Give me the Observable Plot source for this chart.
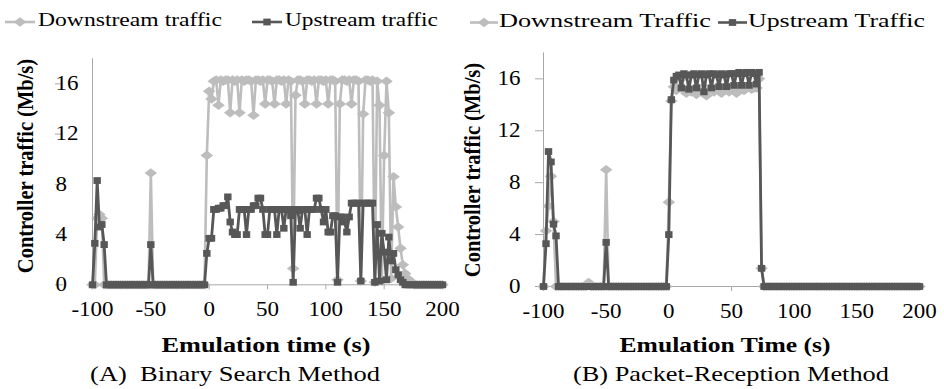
<!DOCTYPE html>
<html><head><meta charset="utf-8">
<script src="https://cdn.jsdelivr.net/npm/d3@7"></script>
<script src="https://cdn.jsdelivr.net/npm/@observablehq/plot@0.6"></script>
<style>
body{margin:0;background:#fff;}
#fig{position:relative;width:944px;height:389px;overflow:hidden;background:#fff;}
.panel{position:absolute;top:0;}
</style></head><body><div id="fig"></div>
<script>
// ---------------- data ----------------
const time = [
-100,-98,-96,-94,-92,-90,-88,-86,-84,-82,
-80,-78,-76,-74,-72,-70,-68,-66,-64,-62,
-60,-58,-56,-54,-52,-50,-48,-46,-44,-42,
-40,-38,-36,-34,-32,-30,-28,-26,-24,-22,
-20,-18,-16,-14,-12,-10,-8,-6,-4,-2,
0,2,4,6,8,10,12,14,16,18,
20,22,24,26,28,30,32,34,36,38,
40,42,44,46,48,50,52,54,56,58,
60,62,64,66,68,70,72,74,76,78,
80,82,84,86,88,90,92,94,96,98,
100,102,104,106,108,110,112,114,116,118,
120,122,124,126,128,130,132,134,136,138,
140,142,144,146,148,150,152,154,156,158,
160,162,164,166,168,170,172,174,176,178,
180,182,184,186,188,190,192,194,196,198,
200];

// (A) Binary Search Method
const leftDown = [
0,0,5.3,5.6,5.3,0,0,0,0,0,
0,0,0,0,0,0,0,0,0,0,
0,0,0,0,0,8.9,0,0,0,0,
0,0,0,0,0,0,0,0,0,0,
0,0,0,0,0,0,0,0,0,10.3,
15.4,14.8,16.2,16.3,14.3,16.3,16.2,16.3,16.3,13.7,
16.3,16.2,16.3,13.7,16.3,16.2,16.3,16.3,16.2,13.5,
16.3,16.3,16.2,16.3,14.4,16.3,16.3,16.2,14.4,16.3,
16.3,16.2,16.3,14.4,16.3,16.2,1.3,15.1,16.3,16.3,
16.2,14.4,16.3,16.3,16.2,16.3,14.4,16.3,16.3,16.2,
16.3,14.4,16.3,16.3,16.2,0.4,14.4,16.3,16.3,16.2,
16.3,14.4,16.3,16.3,16.2,0.3,13.6,16.3,16.3,16.2,
16.3,0.2,16.2,14.3,0.3,10.3,16.2,13.7,0.5,8.6,
6.2,4.6,2.9,1.6,0.9,0.5,0.3,0.2,0,0,
0,0,0,0,0,0,0,0,0,0,
0];
const leftUp = [
0,3.3,8.3,4.6,4.8,3.2,0,0,0,0,
0,0,0,0,0,0,0,0,0,0,
0,0,0,0,0,3.2,0,0,0,0,
0,0,0,0,0,0,0,0,0,0,
0,0,0,0,0,0,0,0,0,2.5,
3.7,3.7,6.0,6.0,6.1,6.1,6.3,6.3,7.0,5.0,
4.2,4.0,4.0,6.0,6.0,6.0,4.0,6.0,6.0,6.3,
6.3,6.9,6.9,6.0,4.0,4.0,6.0,6.0,6.0,4.0,
6.0,6.0,4.5,6.0,6.0,5.5,0.2,6.0,5.9,4.5,
6.0,6.0,4.0,6.0,6.0,6.0,6.9,6.9,6.0,5.0,
6.0,4.2,4.2,5.5,5.5,0.2,5.4,5.4,5.0,4.2,
5.4,6.5,6.5,6.5,6.5,0.3,6.5,6.5,6.5,6.5,
6.5,0.2,4.8,0.3,4.1,2.6,0.4,3.8,1.9,2.5,
1.2,0.8,0.4,0.2,0,0,0,0,0,0,
0,0,0,0,0,0,0,0,0,0,
0];

// (B) Packet-Reception Method
const rightDown = [
0,4.3,6.2,8.5,5.0,0,0,0,0,0,
0,0,0,0,0,0,0,0,0.3,0,
0,0,0,0,0,9.0,0,0,0,0,
0,0,0,0,0,0,0,0,0,0,
0,0,0,0,0,0,0,0,0,0,
6.5,14.3,15.4,15.1,15.3,16.0,15.2,14.9,15.3,15.0,
15.2,14.8,15.3,15.0,15.4,14.7,15.2,15.3,15.0,15.2,
15.3,14.9,15.2,15.4,15.0,15.3,15.2,14.9,15.3,15.2,
15.1,15.3,15.4,15.2,15.3,15.3,16.0,1.4,0,0,
0,0,0,0,0,0,0,0,0,0,
0,0,0,0,0,0,0,0,0,0,
0,0,0,0,0,0,0,0,0,0,
0,0,0,0,0,0,0,0,0,0,
0,0,0,0,0,0,0,0,0,0,
0,0,0,0,0,0,0,0,0,0,
0];
const rightUp = [
0,3.3,10.4,9.6,4.8,3.9,0,0,0,0,
0,0,0,0,0,0,0,0,0,0,
0,0,0,0,0,3.4,0,0,0,0,
0,0,0,0,0,0,0,0,0,0,
0,0,0,0,0,0,0,0,0,0,
4.0,14.4,15.9,16.2,16.3,15.3,16.4,16.3,15.2,16.3,
16.4,15.3,16.3,16.4,15.0,16.3,16.4,15.3,16.4,16.3,
15.4,16.4,16.3,15.4,16.4,16.4,15.5,16.4,16.5,15.5,
16.4,16.5,15.5,16.5,16.4,15.6,16.5,1.4,0,0,
0,0,0,0,0,0,0,0,0,0,
0,0,0,0,0,0,0,0,0,0,
0,0,0,0,0,0,0,0,0,0,
0,0,0,0,0,0,0,0,0,0,
0,0,0,0,0,0,0,0,0,0,
0,0,0,0,0,0,0,0,0,0,
0];

const xTicks = [-100, -50, 0, 50, 100, 150, 200];
const xTickLabels = ["-100", "-50", "0", "50", "100", "150", "200"];
const yTicks = [0, 4, 8, 12, 16];
const yTickLabels = ["0", "4", "8", "12", "16"];
const legendLeft = ["Downstream traffic", "Upstream traffic"];
const legendRight = ["Downstream Traffic", "Upstream Traffic"];
const yTitle = "Controller traffic (Mb/s)";
const xTitleLeft = "Emulation time (s)";
const xTitleRight = "Emulation Time (s)";
const captionLeft = "(A)  Binary Search Method";
const captionRight = "(B) Packet-Reception Method";

// ---------------- styles ----------------
const FONT = '"Liberation Serif", "Times New Roman", serif';
const LIGHT = "#bdbdbd";
const DARK = "#575757";
const AXIS = "#a8a8a8";
const diamondSym = {draw(ctx) { ctx.moveTo(0, -4.8); ctx.lineTo(6.3, 0); ctx.lineTo(0, 4.8); ctx.lineTo(-6.3, 0); ctx.closePath(); }};
const squareSym = {draw(ctx) { ctx.rect(-3.7, -3.4, 7.4, 6.8); }};

function rows(values) { return time.map((t, i) => ({t, v: values[i]})); }

function panel({down, up, left, width, mL, mR, mT, mB, yAnchorStart}) {
  const yAxisOpts = yAnchorStart
    ? {ticks: yTicks, tickSize: 8, tickPadding: 0, textAnchor: "start", dx: -29, stroke: AXIS, label: null,
       tickFormat: d => yTickLabels[yTicks.indexOf(d)]}
    : {ticks: yTicks, tickSize: 8, tickPadding: 15, stroke: AXIS, label: null,
       tickFormat: d => yTickLabels[yTicks.indexOf(d)]};
  const svg = Plot.plot({
    width, height: 389,
    marginLeft: mL, marginRight: mR, marginTop: mT, marginBottom: mB,
    x: {domain: [-100, 200]},
    y: {domain: [0, 18]},
    style: {fontFamily: FONT, fontSize: "20px", color: "#000", background: "transparent", overflow: "visible"},
    marks: [
      Plot.ruleX([-100], {stroke: AXIS, strokeWidth: 1}),
      Plot.ruleY([0], {stroke: AXIS, strokeWidth: 1}),
      Plot.axisX({ticks: xTicks, tickSize: 5, tickPadding: 12, stroke: AXIS, label: null,
        tickFormat: d => xTickLabels[xTicks.indexOf(d)]}),
      Plot.axisY(yAxisOpts),
      Plot.line(rows(down), {x: "t", y: "v", stroke: LIGHT, strokeWidth: 2.6}),
      Plot.dot(rows(down), {x: "t", y: "v", symbol: diamondSym, fill: LIGHT, stroke: "none"}),
      Plot.line(rows(up), {x: "t", y: "v", stroke: DARK, strokeWidth: 2.8}),
      Plot.dot(rows(up), {x: "t", y: "v", symbol: squareSym, fill: DARK, stroke: "none"})
    ]
  });
  svg.classList.add("panel");
  svg.style.left = left + "px";
  // horizontally widen tick labels like the reference
  svg.querySelectorAll('g[aria-label$="tick label"] text').forEach(t => {
    const tr = t.getAttribute("transform");
    if (tr) t.setAttribute("transform", tr + " scale(1.15,1)");
    else {
      const x = +t.getAttribute("x") || 0, y = +t.getAttribute("y") || 0;
      t.removeAttribute("x"); t.removeAttribute("y");
      t.setAttribute("transform", `translate(${x},${y}) scale(1.15,1)`);
    }
  });
  return svg;
}

const fig = document.getElementById("fig");
fig.appendChild(panel({down: leftDown, up: leftUp, left: 0, width: 470, mL: 92, mR: 28, mT: 58.2, mB: 104.7, yAnchorStart: true}));
fig.appendChild(panel({down: rightDown, up: rightUp, left: 470, width: 474, mL: 73, mR: 25, mT: 52.4, mB: 103, yAnchorStart: false}));

// ---------------- overlay: legends, titles, captions ----------------
const ov = d3.select(fig).append("svg")
  .attr("width", 944).attr("height", 389)
  .style("position", "absolute").style("left", "0px").style("top", "0px")
  .style("overflow", "visible");

function addText({text, x, y, size, weight = "normal", anchor = "start", width, stretch = 1, rotate = false}) {
  const t = ov.append("text")
    .attr("font-family", FONT).attr("font-size", size).attr("font-weight", weight)
    .attr("text-anchor", anchor).attr("fill", "#000")
    .style("white-space", "pre").text(text);
  let s = stretch;
  if (width) s = width / t.node().getComputedTextLength();
  t.attr("transform", rotate
    ? `translate(${x},${y}) rotate(-90) scale(1,${s})`
    : `translate(${x},${y}) scale(${s},1)`);
}

function legendSample(x0, x1, y, color, sym) {
  ov.append("line").attr("x1", x0).attr("x2", x1).attr("y1", y).attr("y2", y)
    .attr("stroke", color).attr("stroke-width", 2.6);
  const p = d3.path(); sym.draw(p);
  ov.append("path").attr("d", p.toString()).attr("fill", color)
    .attr("transform", `translate(${(x0 + x1) / 2},${y})`);
}

legendSample(5, 35, 22, LIGHT, diamondSym);
addText({text: legendLeft[0], x: 38, y: 26.3, size: 19.5, width: 184});
legendSample(252, 282, 22, DARK, squareSym);
addText({text: legendLeft[1], x: 285, y: 26.3, size: 19.5, width: 153});

legendSample(470, 498, 22.5, LIGHT, diamondSym);
addText({text: legendRight[0], x: 499, y: 27, size: 19, width: 212});
legendSample(718, 747, 22.5, DARK, squareSym);
addText({text: legendRight[1], x: 748, y: 27, size: 19, width: 177});

addText({text: yTitle, x: 33, y: 166, size: 20.5, weight: "bold", anchor: "middle", rotate: true, stretch: 1.15});
addText({text: yTitle, x: 480, y: 170, size: 20.5, weight: "bold", anchor: "middle", rotate: true, stretch: 1.15});

addText({text: xTitleLeft, x: 266, y: 352, size: 20, weight: "bold", anchor: "middle", width: 209});
addText({text: xTitleRight, x: 725, y: 352, size: 20, weight: "bold", anchor: "middle", width: 211});

addText({text: captionLeft, x: 380, y: 381, size: 21, anchor: "end", width: 290});
addText({text: captionRight, x: 573, y: 381, size: 21, anchor: "start", width: 316});
</script></body></html>
